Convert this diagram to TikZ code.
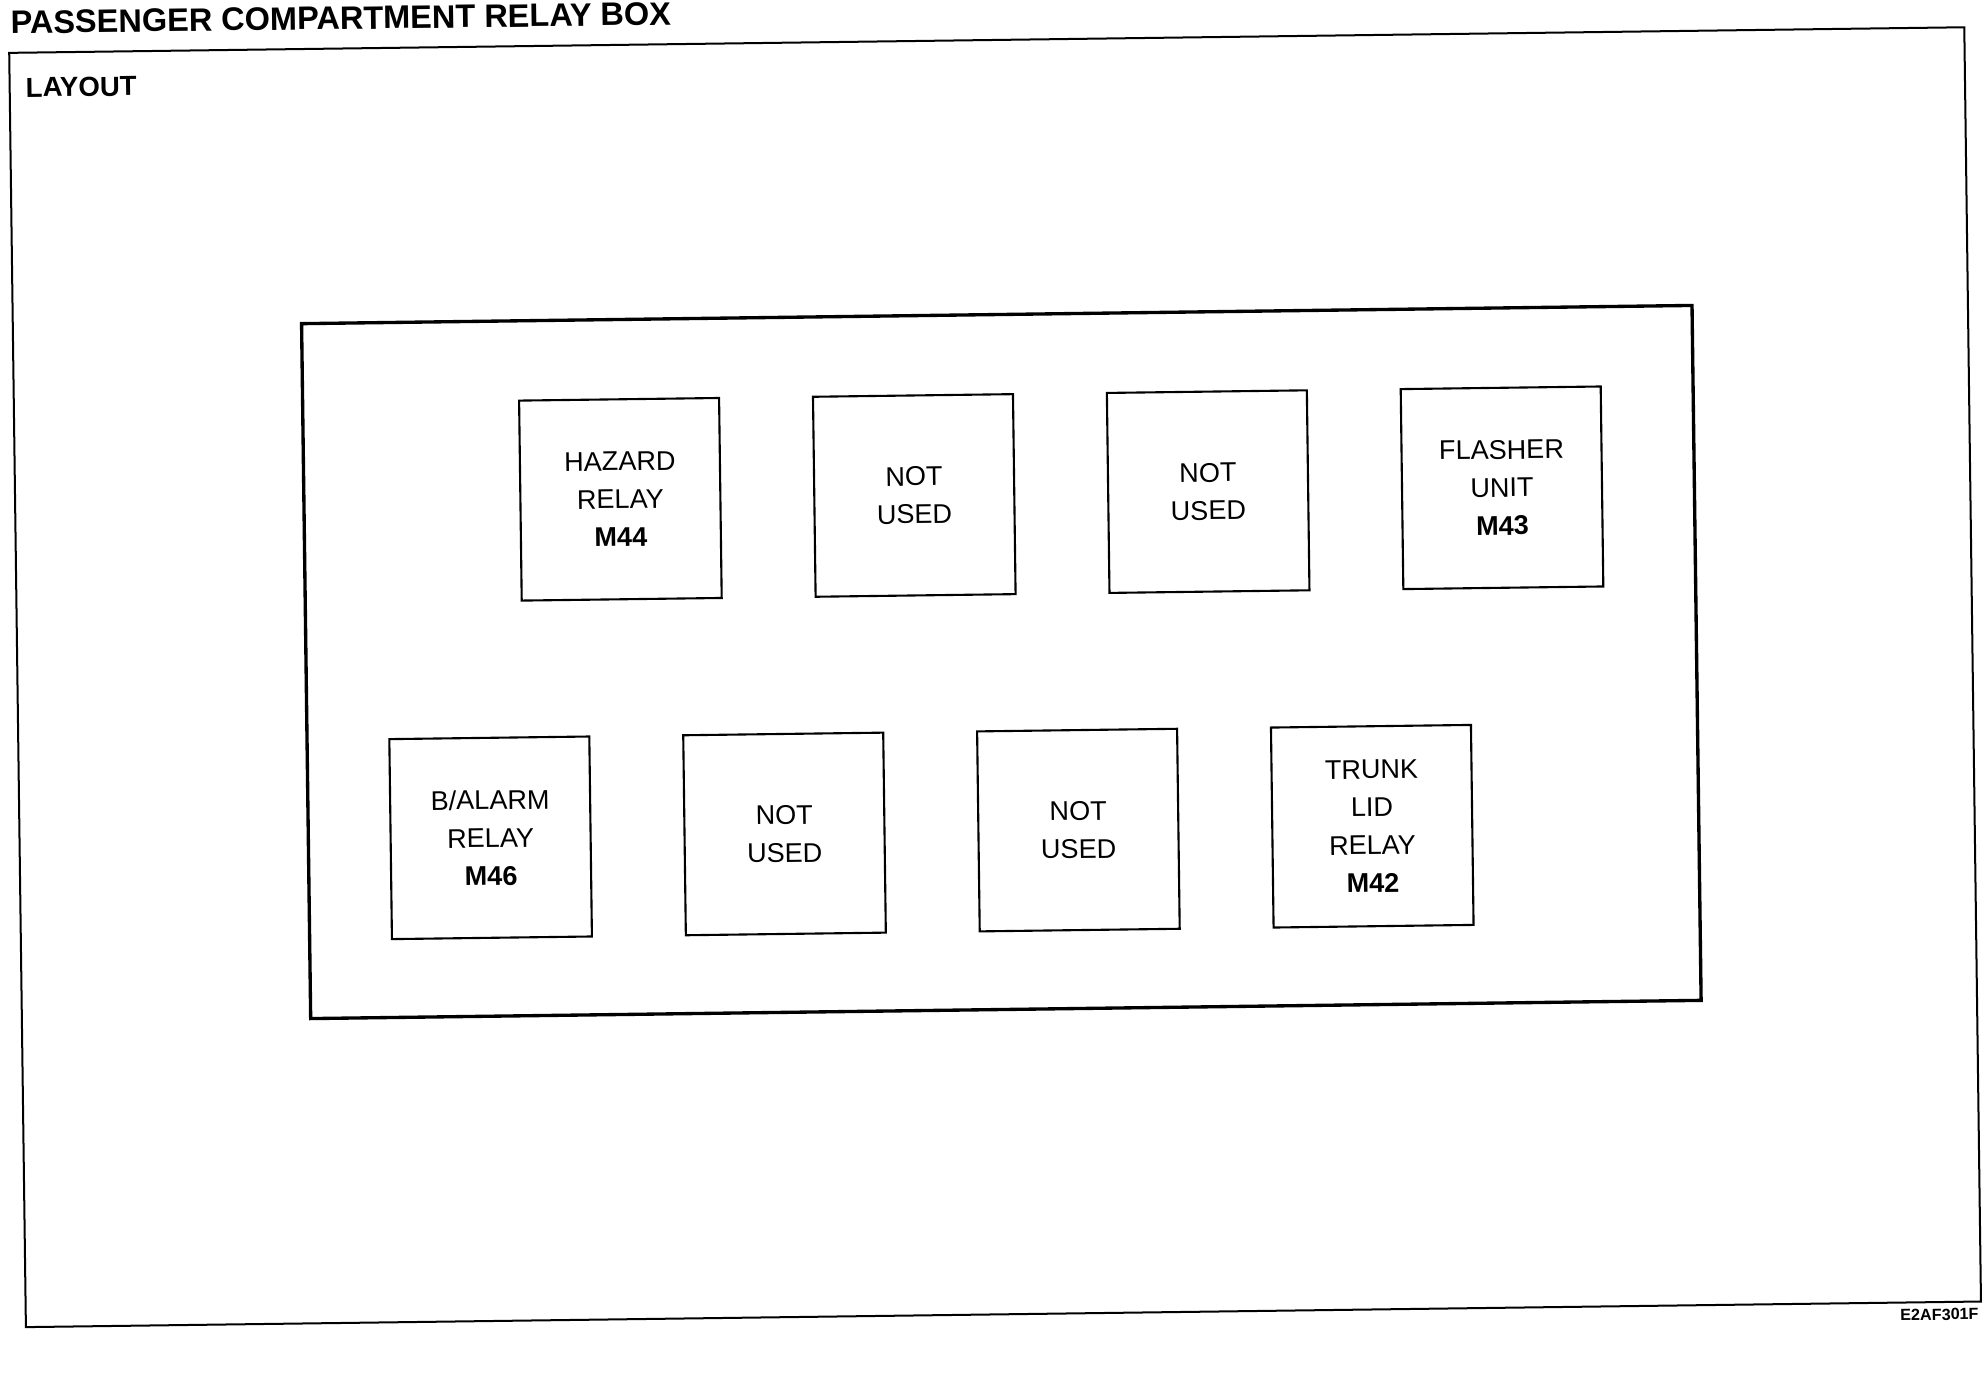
\documentclass[tikz,border=0pt]{standalone}
\usepackage{fontspec}
\setmainfont{Liberation Sans}
\usetikzlibrary{positioning}

\begin{document}
\begin{tikzpicture}[
    node distance=0.918cm,
    relay/.style={rectangle, draw, line width=0.6pt, minimum size=2cm,
                  inner sep=0pt, align=center,
                  font=\fontsize{7.7}{10.8}\selectfont},
    frame/.style={draw, line width=0.57pt},
    housing/.style={draw, line width=0.95pt},
    heading/.style={inner sep=0pt, font=\bfseries},
]

\useasboundingbox (-9.94,-6.88) rectangle (9.94,6.88);

\begin{scope}[rotate=0.75, transform shape]

% --- outer frame and headings ---
\draw[frame] (-9.764,-6.264) rectangle (9.789,6.48);
\node[heading, anchor=base west, font=\fontsize{9.25}{11}\selectfont\bfseries]
    (title) at (-9.753,6.672) {PASSENGER COMPARTMENT RELAY BOX};
\node[heading, anchor=base west, font=\fontsize{7.85}{9}\selectfont\bfseries]
    (layout) at (-9.61,6.036) {LAYOUT};
\node[heading, anchor=base east, font=\fontsize{4.6}{5}\selectfont\bfseries]
    (code) at (9.77,-6.444) {E2AF301F};

% --- relay box housing ---
\draw[housing] (-6.876,-3.216) rectangle (7.03,3.734);

% --- upper row ---
\node[relay] (hazard) at (-3.711,1.936) {HAZARD\\RELAY\\\textbf{M44}};
\node[relay, right=of hazard]  (unusedA) {NOT\\USED};
\node[relay, right=of unusedA] (unusedB) {NOT\\USED};
\node[relay, right=of unusedB] (flasher) {FLASHER\\UNIT\\\textbf{M43}};

% --- lower row ---
\node[relay] (balarm) at (-5.053,-1.432) {B/ALARM\\RELAY\\\textbf{M46}};
\node[relay, right=of balarm]  (unusedC) {NOT\\USED};
\node[relay, right=of unusedC] (unusedD) {NOT\\USED};
\node[relay, right=of unusedD] (trunk)   {TRUNK\\LID\\RELAY\\\textbf{M42}};

\end{scope}

\end{tikzpicture}
\end{document}
